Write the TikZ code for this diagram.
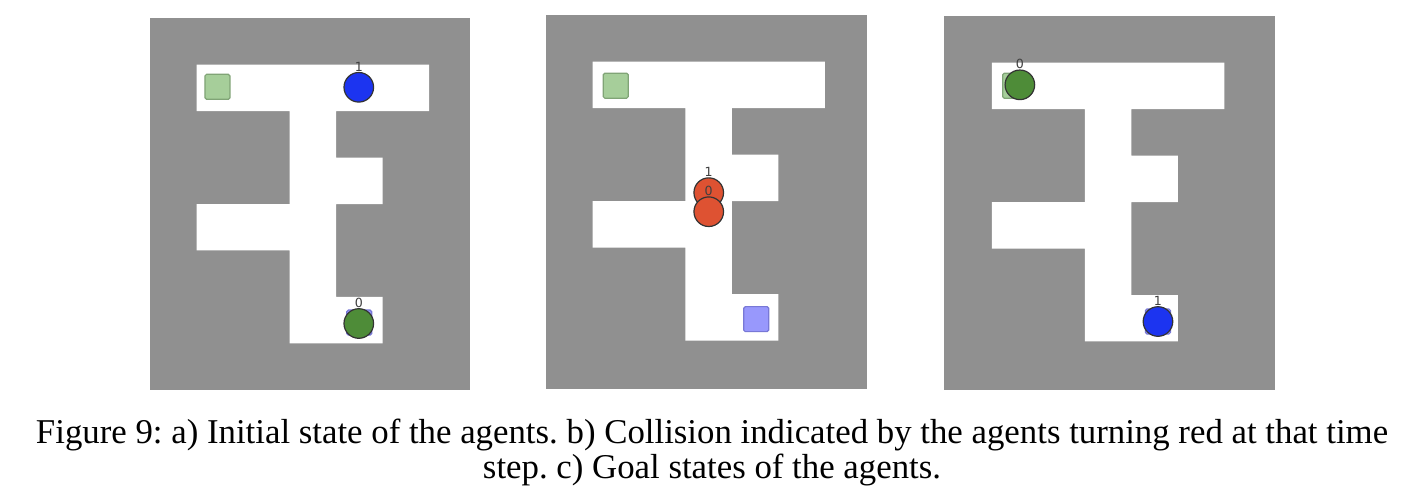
\documentclass[tikz,border=0pt]{standalone}
\usepackage{fontspec}
\newfontfamily\captionfont{Liberation Serif}
\newfontfamily\labelfont{DejaVu Sans}

\definecolor{wallgray}{RGB}{144,144,144}
\definecolor{agentblue}{RGB}{28,52,240}
\definecolor{agentgreen}{RGB}{78,140,56}
\definecolor{agentred}{RGB}{222,82,50}
\definecolor{goalgreen}{RGB}{166,206,154}
\definecolor{goalgreenedge}{RGB}{128,164,118}
\definecolor{goalblue}{RGB}{152,152,252}
\definecolor{goalblueedge}{RGB}{120,120,214}

\tikzset{
  agent/.style={circle, draw=black!80, line width=0.6pt, minimum size=14.8pt, inner sep=0pt, label distance=2.5pt},
  agentnum/.style={font=\labelfont\fontsize{6.3}{7}\selectfont, text=black!75, inner sep=0pt},
  goalbox/.style={rectangle, line width=0.6pt, minimum size=12.5pt, inner sep=0pt, rounded corners=0.8pt},
  captext/.style={font=\captionfont\fontsize{17.4}{19}\selectfont\frenchspacing, anchor=base, inner sep=0pt}
}

\begin{document}
\begin{tikzpicture}[x=23.25pt,y=-23.25pt]
\fill[white] (0,0) rectangle (30.194,10.710);
\useasboundingbox (0,0) rectangle (30.194,10.710);

\coordinate (pa) at (3.226,0.387);
\coordinate (pb) at (11.742,0.323);
\coordinate (pc) at (20.333,0.344);

\fill[wallgray] (pa) rectangle ++(6.882,8);
\fill[wallgray] (pb) rectangle ++(6.903,8.04);
\fill[wallgray] (20.301,0.344) rectangle ++(7.118,8.04);

\foreach \p in {pa,pb,pc}
  \fill[white, shift={(\p)}] (1,1) rectangle (6,2) (3,2) rectangle (4,7)
    (4,3) rectangle (5,4) (1,4) rectangle (3,5) (4,6) rectangle (5,7);

% a) start
\begin{scope}[shift={(pa)}]
\node[goalbox, fill=goalgreen, draw=goalgreenedge] (goal0a) at (1.45,1.48) {};
\node[goalbox, fill=goalblue, draw=goalblueedge] (goal1a) at (4.5,6.55) {};
\node[agent, fill=agentblue, label={[agentnum]above:1}] (agent1a) at (4.49,1.49) {};
\node[agent, fill=agentgreen, label={[agentnum]above:0}] (agent0a) at (4.49,6.57) {};
\end{scope}

% b) collision
\begin{scope}[shift={(pb)}]
\node[goalbox, fill=goalgreen, draw=goalgreenedge] (goal0b) at (1.5,1.52) {};
\node[goalbox, fill=goalblue, draw=goalblueedge] (goal1b) at (4.52,6.54) {};
\node[agent, fill=agentred, label={[agentnum]above:1}] (agent1b) at (3.5,3.82) {};
\node[agent, fill=agentred, label={[agentnum]above:0}] (agent0b) at (3.5,4.23) {};
\end{scope}

% c) goal
\begin{scope}[shift={(pc)}]
\node[goalbox, fill=goalgreen, draw=goalgreenedge] (goal0c) at (1.5,1.5) {};
\node[goalbox, fill=goalblue, draw=goalblueedge] (goal1c) at (4.57,6.57) {};
\node[agent, fill=agentgreen, label={[agentnum]above:0}] (agent0c) at (1.6,1.48) {};
\node[agent, fill=agentblue, label={[agentnum]above:1}] (agent1c) at (4.57,6.57) {};
\end{scope}

\node[captext] (cap1) at (15.312,9.527) {Figure 9: a) Initial state of the agents. b) Collision indicated by the agents turning red at that time};
\node[captext] (cap2) at (15.312,10.30) {step. c) Goal states of the agents.};

\end{tikzpicture}
\end{document}
